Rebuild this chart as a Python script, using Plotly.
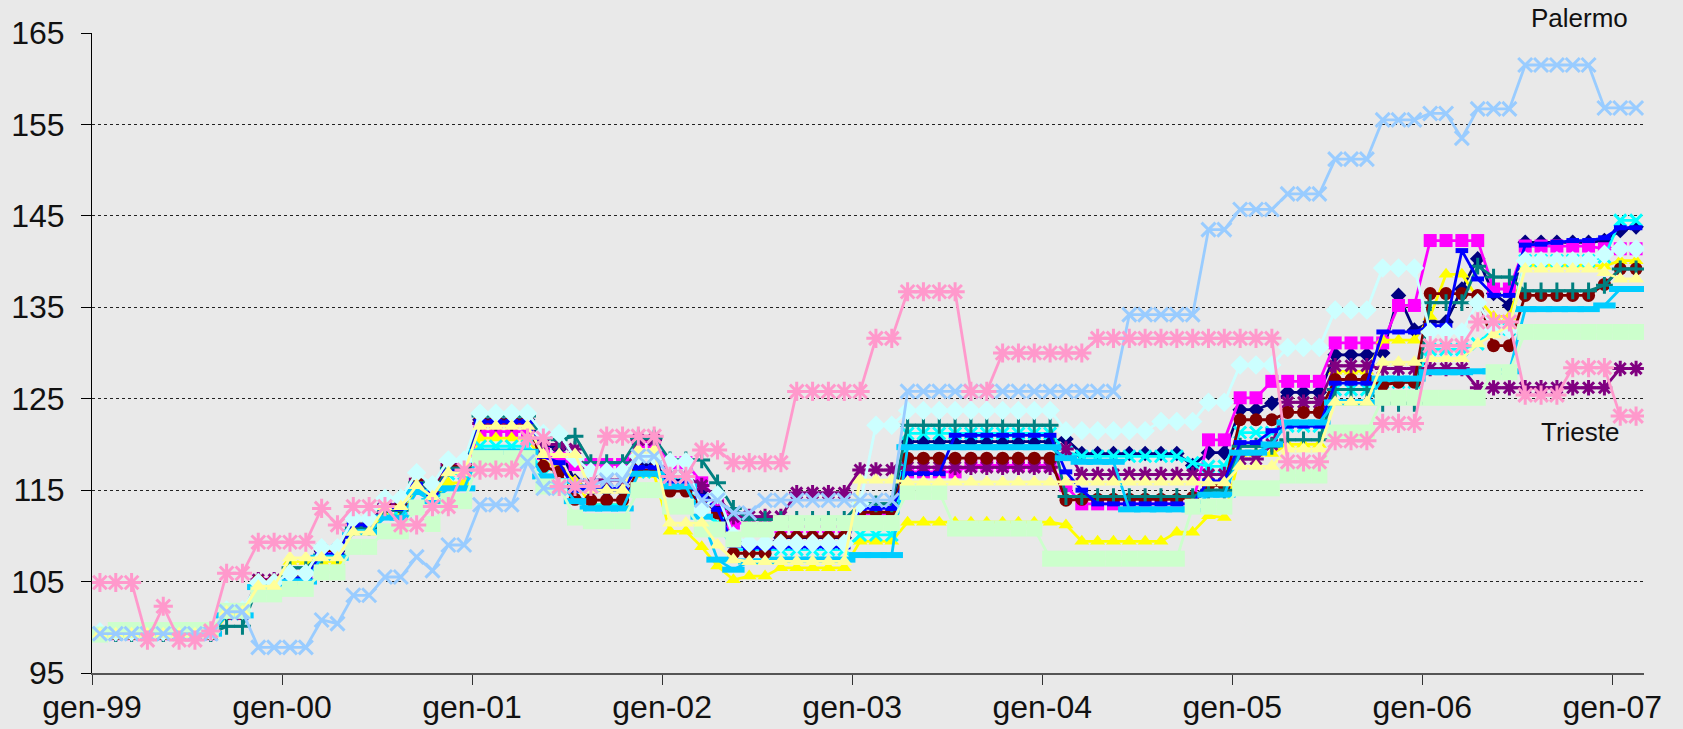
import plotly.graph_objects as go

# mesi da gen-99 a feb-07 (98 osservazioni mensili)
MESI = ["gen", "feb", "mar", "apr", "mag", "giu", "lug", "ago", "set", "ott", "nov", "dic"]
months = [f"{MESI[k % 12]}-{(99 + k // 12) % 100:02d}" for k in range(98)]
tick_labels = ["gen-99", "gen-00", "gen-01", "gen-02", "gen-03", "gen-04", "gen-05", "gen-06", "gen-07"]

s01 = [
    99.3, 99.3, 99.3, 99.3, 99.3, 99.3, 99.3, 99.3, 101.5, 101.5, 105.0, 105.0,
    105.2, 105.2, 108.3, 108.3, 111.3, 111.3, 113.3, 113.3, 116.0, 114.8, 117.6, 117.6,
    122.7, 122.7, 122.7, 122.7, 120.0, 119.5, 116.0, 115.0, 115.0, 115.0, 117.8, 117.8,
    116.1, 116.1, 115.0, 113.2, 110.0, 108.8, 108.8, 109.8, 109.8, 109.8, 109.8, 109.8,
    112.5, 112.5, 112.5, 120.3, 120.3, 120.3, 120.3, 120.3, 120.3, 120.3, 120.3, 120.3,
    120.3, 120.6, 119.0, 119.0, 119.0, 119.0, 119.0, 119.0, 119.0, 117.7, 119.1, 119.1,
    123.8, 123.8, 124.5, 125.7, 125.7, 125.7, 129.8, 129.8, 129.8, 130.0, 136.3, 132.5,
    133.4, 133.4, 137.0, 140.3, 136.5, 135.2, 142.1, 142.1, 142.1, 142.1, 142.1, 142.3,
    143.4, 143.8]
s02 = [
    99.3, 99.3, 99.3, 99.3, 99.3, 99.3, 99.3, 99.3, 101.5, 101.5, 104.8, 104.8,
    105.8, 105.8, 108.2, 108.2, 110.8, 110.8, 113.0, 113.0, 115.6, 114.4, 117.2, 117.2,
    121.4, 121.4, 121.4, 121.4, 119.0, 118.5, 117.8, 117.8, 117.8, 117.8, 120.3, 120.3,
    118.0, 118.0, 115.8, 114.0, 111.4, 111.4, 111.4, 111.0, 111.0, 111.0, 111.0, 111.0,
    112.3, 112.3, 112.3, 117.0, 117.0, 117.0, 117.0, 117.7, 117.7, 117.7, 117.7, 117.7,
    117.7, 115.5, 113.5, 113.5, 113.5, 113.5, 113.5, 113.5, 113.5, 113.5, 120.5, 120.5,
    125.1, 125.1, 126.9, 126.9, 126.9, 126.9, 131.1, 131.1, 131.1, 131.1, 135.2, 135.2,
    142.3, 142.3, 142.3, 142.3, 137.0, 137.0, 141.7, 141.7, 141.7, 141.7, 141.7, 141.4,
    141.4, 141.4]
s03 = [
    99.0, 99.0, 99.0, 99.0, 99.0, 99.0, 99.0, 99.0, 101.3, 101.3, 104.3, 104.3,
    107.2, 107.2, 107.2, 107.2, 110.6, 110.6, 112.3, 112.3, 115.0, 113.8, 115.8, 115.8,
    120.7, 120.7, 120.7, 120.7, 118.0, 117.5, 116.0, 113.4, 113.4, 113.4, 116.7, 116.7,
    110.5, 110.5, 108.8, 106.7, 105.2, 105.6, 105.6, 106.5, 106.5, 106.5, 106.5, 106.5,
    109.4, 109.4, 109.4, 111.5, 111.5, 111.5, 111.5, 111.5, 111.5, 111.5, 111.5, 111.5,
    111.5, 111.2, 109.4, 109.4, 109.4, 109.4, 109.4, 109.4, 110.4, 110.4, 112.2, 112.0,
    119.0, 119.0, 119.0, 120.0, 120.0, 120.0, 128.0, 128.0, 128.0, 131.4, 131.4, 131.4,
    134.0, 138.6, 138.6, 136.0, 134.0, 134.0, 139.6, 139.6, 139.6, 139.6, 139.6, 139.5,
    140.1, 140.1]
s04 = [
    99.3, 99.3, 99.3, 99.3, 99.3, 99.3, 99.3, 99.3, 101.5, 101.5, 104.6, 104.6,
    105.6, 105.6, 108.0, 108.0, 111.0, 111.0, 113.0, 113.0, 115.5, 114.5, 116.8, 116.8,
    119.8, 119.8, 119.8, 119.8, 116.7, 116.5, 114.5, 113.4, 113.4, 113.4, 117.0, 117.0,
    115.8, 115.8, 112.6, 111.4, 108.5, 108.5, 108.5, 108.5, 108.5, 108.5, 108.5, 108.5,
    110.1, 110.1, 110.1, 121.2, 121.2, 121.2, 121.2, 121.2, 121.2, 121.2, 121.2, 121.2,
    121.2, 119.2, 118.7, 118.7, 118.7, 118.7, 118.7, 118.7, 118.7, 118.0, 117.6, 117.6,
    121.3, 121.3, 121.3, 122.0, 122.0, 122.0, 126.0, 126.0, 126.0, 126.8, 126.8, 126.8,
    130.4, 130.4, 130.4, 131.0, 132.6, 132.6, 140.1, 140.1, 140.1, 140.1, 140.1, 140.5,
    144.5, 144.5]
s05 = [
    99.3, 99.3, 99.3, 99.3, 99.3, 99.3, 99.3, 99.3, 101.5, 101.5, 105.2, 105.2,
    105.9, 105.9, 108.5, 108.5, 111.2, 111.2, 113.4, 113.4, 116.2, 115.0, 117.8, 117.8,
    122.3, 122.3, 122.3, 122.3, 120.0, 120.0, 119.5, 116.1, 116.1, 116.1, 120.5, 120.5,
    116.5, 116.5, 115.5, 114.3, 112.1, 112.1, 112.1, 112.1, 114.7, 114.7, 114.7, 114.7,
    117.2, 117.2, 117.2, 117.5, 117.5, 117.5, 117.5, 117.5, 117.5, 117.5, 117.5, 117.5,
    117.5, 119.5, 116.7, 116.7, 116.7, 116.7, 116.7, 116.7, 116.7, 116.7, 116.7, 116.7,
    118.4, 118.4, 120.0, 124.6, 124.6, 124.6, 128.6, 128.6, 128.6, 128.3, 128.3, 128.3,
    128.3, 128.3, 128.3, 126.2, 126.2, 126.2, 126.2, 126.2, 126.2, 126.2, 126.2, 126.2,
    128.3, 128.3]
s06 = [
    99.3, 99.3, 99.3, 99.3, 99.3, 99.3, 99.3, 99.3, 101.5, 101.5, 105.1, 105.1,
    105.7, 105.7, 108.4, 108.4, 111.0, 111.0, 113.2, 113.2, 116.0, 114.8, 117.6, 117.6,
    122.6, 122.6, 122.6, 122.6, 117.6, 117.0, 114.0, 113.9, 113.9, 113.9, 117.2, 117.2,
    114.9, 114.9, 113.6, 112.5, 108.1, 108.1, 108.1, 109.9, 109.9, 109.9, 109.9, 109.9,
    112.6, 112.6, 112.6, 118.5, 118.5, 118.5, 118.5, 118.5, 118.5, 118.5, 118.5, 118.5,
    118.5, 113.9, 114.0, 114.0, 114.0, 114.0, 114.0, 114.0, 114.0, 114.2, 115.5, 115.5,
    122.7, 122.7, 122.7, 123.5, 123.5, 123.5, 127.1, 127.1, 127.1, 126.5, 126.8, 126.8,
    136.5, 136.5, 136.5, 136.3, 130.8, 130.8, 136.3, 136.3, 136.3, 136.3, 136.3, 137.5,
    139.2, 139.2]
s07 = [
    99.3, 99.3, 99.3, 99.3, 99.3, 99.3, 99.3, 99.3, 100.1, 100.1, 104.6, 104.6,
    106.5, 106.5, 107.9, 107.9, 110.9, 110.9, 112.8, 112.8, 115.8, 114.6, 117.4, 117.4,
    123.1, 123.1, 123.1, 123.1, 120.7, 120.5, 120.9, 118.0, 118.0, 118.0, 120.7, 120.7,
    118.3, 118.3, 118.3, 115.8, 113.0, 111.8, 111.8, 111.8, 111.8, 111.8, 111.8, 111.8,
    113.5, 113.5, 113.5, 122.1, 122.1, 122.1, 122.1, 122.1, 122.1, 122.1, 122.1, 122.1,
    122.1, 114.3, 114.3, 114.3, 114.3, 114.3, 114.3, 114.3, 114.3, 114.3, 115.0, 115.0,
    119.8, 119.8, 119.8, 120.5, 120.5, 120.5, 126.0, 126.0, 126.0, 124.5, 124.5, 124.5,
    135.5, 135.5, 135.5, 139.5, 138.3, 138.3, 136.8, 136.8, 136.8, 136.8, 136.8, 137.4,
    139.2, 139.2]
s08 = [
    99.3, 99.3, 99.3, 99.3, 99.3, 99.3, 99.3, 99.3, 101.5, 101.5, 104.7, 104.7,
    105.4, 105.4, 108.0, 108.0, 111.2, 111.2, 113.0, 113.0, 115.6, 114.5, 117.0, 117.0,
    122.5, 122.5, 122.5, 122.5, 118.7, 118.0, 115.0, 115.2, 115.2, 115.2, 117.5, 117.5,
    115.8, 115.8, 114.3, 112.9, 109.0, 108.7, 108.7, 108.8, 108.8, 108.8, 108.8, 108.8,
    113.0, 113.0, 113.0, 116.8, 116.8, 116.8, 121.0, 121.0, 121.0, 121.0, 121.0, 121.0,
    121.0, 117.0, 115.0, 113.5, 113.5, 113.5, 113.5, 113.5, 113.5, 113.5, 116.0, 116.0,
    120.2, 120.2, 121.5, 122.0, 122.0, 122.0, 126.7, 126.7, 126.7, 132.3, 132.3, 132.3,
    133.0, 133.0, 141.2, 138.1, 136.3, 136.3, 141.8, 141.9, 142.1, 142.3, 142.3, 142.6,
    143.7, 143.7]
s09 = [
    99.3, 99.3, 99.3, 99.3, 99.3, 99.3, 99.3, 99.3, 101.3, 101.3, 104.4, 104.4,
    105.0, 105.0, 107.6, 107.6, 110.4, 110.4, 112.0, 112.0, 114.8, 113.8, 115.2, 115.2,
    119.2, 119.2, 119.2, 119.2, 116.5, 116.0, 113.8, 113.0, 113.0, 113.0, 116.8, 116.8,
    115.4, 115.4, 112.1, 107.4, 106.3, 107.2, 107.2, 107.4, 107.4, 107.4, 107.4, 107.4,
    107.9, 107.9, 107.9, 119.7, 119.7, 119.7, 119.7, 119.7, 119.7, 119.7, 119.7, 119.7,
    119.7, 118.5, 118.1, 118.1, 118.1, 112.9, 112.9, 112.9, 112.9, 112.9, 114.5, 114.5,
    119.1, 119.1, 120.0, 122.4, 122.4, 122.4, 124.6, 124.6, 124.6, 127.2, 127.2, 127.2,
    127.9, 127.9, 127.9, 128.0, 128.0, 128.0, 134.8, 134.8, 134.8, 134.8, 134.8, 135.2,
    137.0, 137.0]
s10 = [
    99.5, 99.5, 99.5, 99.5, 99.5, 99.5, 99.5, 99.5, 101.9, 101.9, 104.9, 104.9,
    105.9, 105.9, 108.7, 108.7, 111.9, 111.9, 114.1, 114.1, 116.9, 115.6, 118.3, 118.3,
    123.4, 123.4, 123.4, 123.4, 121.2, 121.2, 118.5, 117.0, 117.0, 117.0, 118.7, 118.7,
    118.1, 118.1, 112.9, 114.5, 110.0, 109.2, 109.2, 109.2, 109.2, 109.2, 109.2, 109.2,
    113.5, 122.1, 122.1, 123.7, 123.7, 123.7, 123.7, 123.7, 123.7, 123.7, 123.7, 123.7,
    123.7, 121.5, 121.5, 121.5, 121.5, 121.5, 121.5, 122.5, 122.5, 122.5, 124.6, 124.6,
    128.7, 128.7, 128.7, 130.6, 130.6, 130.6, 134.7, 134.7, 134.7, 139.3, 139.3, 139.3,
    132.3, 132.3, 132.3, 135.5, 132.6, 132.6, 140.1, 140.1, 140.1, 140.1, 140.1, 140.8,
    141.4, 141.4]
s11 = [
    99.2, 99.7, 99.7, 99.7, 99.7, 99.7, 99.7, 99.7, 101.8, 101.8, 103.6, 103.6,
    104.2, 104.2, 106.0, 106.0, 108.8, 108.8, 110.5, 110.5, 113.1, 111.3, 113.8, 113.8,
    118.5, 118.5, 118.5, 118.5, 115.4, 115.4, 112.0, 111.6, 111.6, 111.6, 115.0, 115.0,
    113.2, 113.2, 110.7, 110.7, 109.6, 110.7, 110.7, 111.4, 111.4, 111.4, 111.4, 111.4,
    111.4, 111.4, 111.4, 114.8, 114.8, 114.8, 110.8, 110.8, 110.8, 110.8, 110.8, 110.8,
    107.5, 107.5, 107.5, 107.5, 107.5, 107.5, 107.5, 107.5, 107.5, 113.2, 113.2, 113.2,
    115.2, 115.2, 115.2, 116.6, 116.6, 116.6, 121.3, 121.3, 121.3, 125.1, 125.1, 125.1,
    125.1, 125.1, 125.1, 125.1, 127.9, 127.9, 132.3, 132.3, 132.3, 132.3, 132.3, 132.3,
    132.3, 132.3]
s12 = [
    99.3, 99.3, 99.3, 99.3, 99.3, 99.3, 99.3, 99.3, 101.7, 101.7, 104.5, 104.5,
    107.6, 107.6, 107.6, 107.6, 110.4, 110.4, 113.2, 113.2, 115.5, 114.3, 116.9, 116.9,
    122.0, 122.0, 122.0, 122.0, 118.9, 118.9, 118.9, 115.0, 115.0, 115.0, 119.4, 119.4,
    111.4, 111.4, 111.4, 109.0, 107.4, 107.2, 107.2, 107.2, 107.2, 107.2, 107.2, 107.2,
    116.1, 116.1, 116.1, 115.9, 115.9, 115.9, 115.9, 115.9, 115.9, 115.9, 115.9, 115.9,
    115.9, 115.9, 115.9, 115.9, 115.9, 115.9, 115.9, 115.9, 115.9, 115.9, 115.8, 115.8,
    117.6, 117.6, 117.6, 119.5, 119.5, 119.5, 124.6, 124.6, 124.6, 129.0, 129.0, 129.0,
    129.4, 129.4, 129.4, 131.0, 132.0, 133.0, 139.2, 139.2, 139.2, 139.2, 139.2, 138.8,
    138.1, 138.1]
palermo = [
    99.3, 99.3, 99.3, 99.3, 99.3, 99.3, 99.3, 99.3, 101.7, 101.7, 97.8, 97.8,
    97.8, 97.8, 100.8, 100.4, 103.5, 103.5, 105.5, 105.5, 107.7, 106.2, 109.0, 109.0,
    113.4, 113.4, 113.4, 118.1, 115.2, 115.2, 115.5, 115.5, 116.1, 116.1, 118.7, 118.7,
    116.5, 116.5, 113.9, 113.9, 112.5, 112.5, 113.9, 113.9, 113.9, 113.9, 113.9, 113.9,
    113.9, 113.9, 113.9, 125.8, 125.8, 125.8, 125.8, 125.8, 125.8, 125.8, 125.8, 125.8,
    125.8, 125.8, 125.8, 125.8, 125.8, 134.2, 134.2, 134.2, 134.2, 134.2, 143.5, 143.5,
    145.7, 145.7, 145.7, 147.4, 147.4, 147.4, 151.2, 151.2, 151.2, 155.5, 155.5, 155.5,
    156.2, 156.2, 153.5, 156.7, 156.7, 156.7, 161.5, 161.5, 161.5, 161.5, 161.5, 156.8,
    156.8, 156.8]
trieste = [
    104.9, 104.9, 104.9, 98.6, 102.3, 98.6, 98.6, 99.6, 105.9, 105.9, 109.3, 109.3,
    109.3, 109.3, 113.0, 111.2, 113.2, 113.2, 113.2, 111.2, 111.2, 113.2, 113.2, 117.2,
    117.2, 117.2, 117.2, 120.7, 120.7, 115.4, 115.4, 115.4, 120.9, 120.9, 120.9, 120.9,
    116.5, 116.5, 119.4, 119.4, 118.0, 118.0, 118.0, 118.0, 125.8, 125.8, 125.8, 125.8,
    125.8, 131.6, 131.6, 136.7, 136.7, 136.7, 136.7, 125.8, 125.8, 130.0, 130.0, 130.0,
    130.0, 130.0, 130.0, 131.6, 131.6, 131.6, 131.6, 131.6, 131.6, 131.6, 131.6, 131.6,
    131.6, 131.6, 131.6, 118.1, 118.1, 118.1, 120.4, 120.4, 120.4, 122.3, 122.3, 122.3,
    130.8, 130.8, 130.8, 133.4, 133.4, 133.4, 125.4, 125.4, 125.4, 128.4, 128.4, 128.4,
    123.1, 123.1]

series = [s01, s02, s03, s04, s05, s06, s07, s08, s09, s10, s11, s12, palermo, trieste]
names = [f"Serie {k}" for k in range(1, 13)] + ["Palermo", "Trieste"]

# stile Excel: colore, simbolo, dimensione, spessore contorno
styles = [
    ("#000080", "diamond", 12, 0),
    ("#FF00FF", "square", 13, 0),
    ("#FFFF00", "triangle-up", 13, 0),
    ("#00FFFF", "x-thin", 12, 3),
    ("#800080", "asterisk", 13, 3),
    ("#800000", "circle", 13, 0),
    ("#008080", "cross-thin", 12, 3),
    ("#0000FF", "line-ew", 9, 5),
    ("#00CCFF", "line-ew", 16, 6),
    ("#CCFFFF", "diamond", 15, 0),
    ("#CCFFCC", "square", 16, 0),
    ("#FFFF99", "triangle-up", 14, 0),
    ("#99CCFF", "x-thin", 14, 3),
    ("#FF99CC", "asterisk", 16, 3),
]

for s in series:
    assert len(s) == len(months), len(s)

pos = [k + 0.5 for k in range(len(months))]

fig = go.Figure()
for vals, name, (col, sym, size, lw) in zip(series, names, styles):
    fig.add_trace(go.Scatter(
        x=pos, y=vals, name=name, text=months,
        mode="lines+markers",
        line=dict(color=col, width=2.8),
        marker=dict(symbol=sym, size=size, color=col,
                    line=dict(color=col, width=lw)),
        hovertemplate="%{text}: %{y}<extra>" + name + "</extra>",
    ))

FONT = "Arial, Liberation Sans, sans-serif"

fig.add_annotation(x=93.9 / 98, y=1.024, xref="paper", yref="paper",
                   xanchor="center", yanchor="middle",
                   text="Palermo", showarrow=False,
                   font=dict(family=FONT, size=26, color="#111"))
fig.add_annotation(x=94.0, y=121.35, xanchor="center", yanchor="middle",
                   text="Trieste", showarrow=False,
                   font=dict(family=FONT, size=26, color="#111"))

fig.update_layout(
    width=1683, height=729,
    margin=dict(l=92, r=39, t=33, b=56),
    paper_bgcolor="#e9e9e9", plot_bgcolor="#e9e9e9",
    showlegend=False,
    font=dict(family=FONT, size=32, color="#111"),
    xaxis=dict(
        range=[0, 98], automargin=False,
        tickmode="array",
        tickvals=[12 * k for k in range(len(tick_labels))],
        ticktext=tick_labels,
        ticks="outside", ticklen=10, tickcolor="#333", tickwidth=1,
        showline=True, linecolor="#555", linewidth=2,
        showgrid=False, zeroline=False,
        ticklabelstandoff=-5,
    ),
    yaxis=dict(
        range=[95, 165], automargin=False,
        tickvals=list(range(95, 166, 10)),
        ticks="outside", ticklen=10, tickcolor="#000", tickwidth=1,
        showline=True, linecolor="#000", linewidth=1,
        showgrid=True, gridcolor="#222", griddash="dot", gridwidth=1,
        zeroline=False,
        ticklabelstandoff=10,
    ),
)

fig.write_html("out.html", config={"displayModeBar": False},
               post_script="document.body.style.margin='0px';")
